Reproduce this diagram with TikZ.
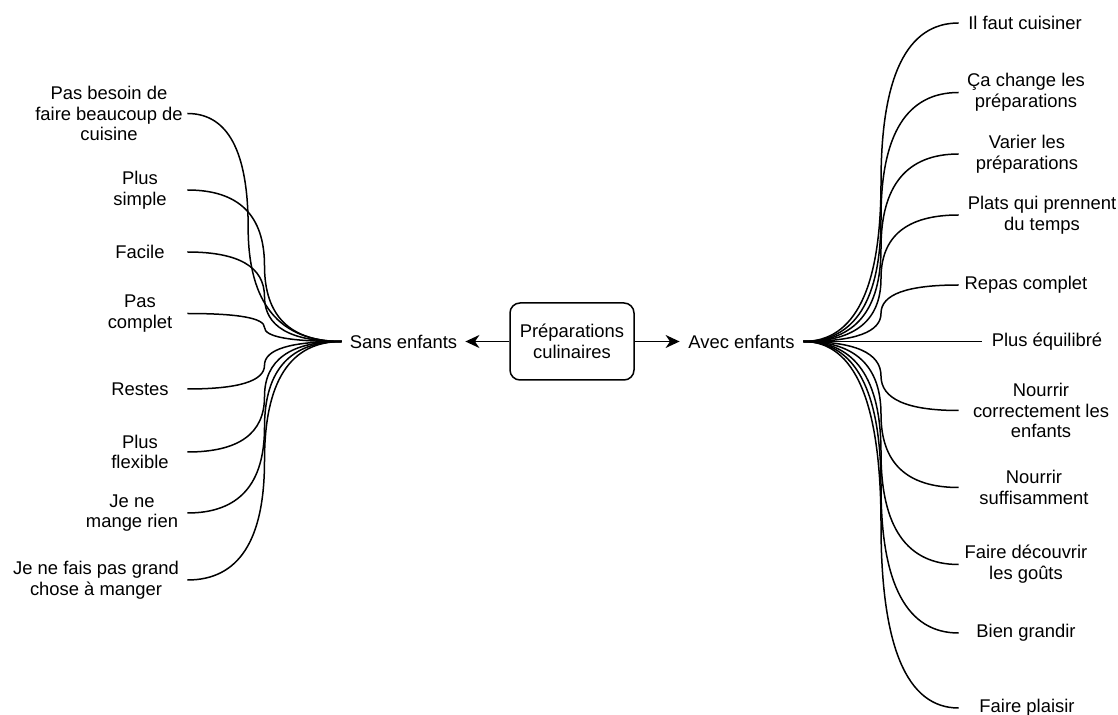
\documentclass[tikz,border=0pt]{standalone}
\usepackage{fontspec}
\setmainfont{Liberation Sans}
\usetikzlibrary{arrows.meta,calc}
\tikzset{
  fan/.style={to path={
    let \p1=(\tikztostart), \p2=(\tikztotarget),
        \n1={\x1+#1*(\x2-\x1)}, \n2={0.5*(\y1+\y2)} in
    .. controls ({\x1+2/3*(\n1-\x1)},\y1) and ({\n1*1pt},{\n2+2/3*(\y1-\n2)}) .. ({\n1*1pt},{\n2*1pt})
    .. controls ({\n1*1pt},{\n2+2/3*(\y2-\n2)}) and ({\x2+2/3*(\n1-\x2)},\y2) .. (\tikztotarget)
  }},
  fan/.default=0.5
}
\begin{document}
\begin{tikzpicture}[x=0.5pt,y=-0.5pt,
  every node/.style={font=\fontsize{9.2}{10.4}\selectfont, inner sep=0pt, align=center},
  box/.style={draw, rounded corners=5pt, minimum width=62pt, minimum height=38.5pt, line width=0.75pt},
  conn/.style={line width=0.75pt},
  arr/.style={conn, -{Stealth[length=7pt,width=6.5pt,inset=2.2pt]}}]
\useasboundingbox (0,0) rectangle (1118,715);

% centre
\node[box] (prep) at (572,341.5) {Préparations\\culinaires};
\node[minimum width=61.5pt] (sans) at (403.5,341.5) {Sans enfants};
\node[minimum width=61.5pt] (avec) at (741.5,341.5) {Avec enfants};

% left leaves
\node[minimum width=78pt] (l1) at (109,113.5) {Pas besoin de\\faire beaucoup de\\cuisine};
\node[minimum width=47pt] (l2) at (140,190) {Plus\\simple};
\node[minimum width=47pt] (l3) at (140,252) {Facile};
\node[minimum width=47pt] (l4) at (140,313.5) {Pas\\complet};
\node[minimum width=47pt] (l5) at (140,389) {Restes};
\node[minimum width=47pt] (l6) at (140,452) {Plus\\flexible};
\node[minimum width=55pt] (l7) at (132,513) {Je ne\\mange rien};
\node[minimum width=91pt] (l8) at (96,580) {Je ne fais pas grand\\chose à manger};

% right leaves
\node[minimum width=66pt] (r1) at (1025,23) {Il faut cuisiner};
\node[minimum width=67pt] (r2) at (1026,92.5) {Ça change les\\préparations};
\node[minimum width=68pt] (r3) at (1027,154) {Varier les\\préparations};
\node[minimum width=83pt] (r4) at (1042,215) {Plats qui prennent\\du temps};
\node[minimum width=67pt] (r5) at (1026,285) {Repas complet};
\node[minimum width=65pt] (r6) at (1047,341.5) {Plus équilibré};
\node[minimum width=82pt] (r7) at (1041,410.5) {Nourrir\\correctement les\\enfants};
\node[minimum width=75pt] (r8) at (1034,487.5) {Nourrir\\suffisamment};
\node[minimum width=67pt] (r9) at (1026,564.5) {Faire découvrir\\les goûts};
\node[minimum width=67pt] (r10) at (1026,633) {Bien grandir};
\node[minimum width=68pt] (r11) at (1027,708) {Faire plaisir};

% arrows from centre
\draw[arr] (prep.west) -- (sans.east);
\draw[arr] (prep.east) -- (avec.west);

% left fan
\draw[conn] (l1.east) to[fan=0.394] (sans.west);
\draw[conn] (l2.east) to[fan] (sans.west);
\draw[conn] (l3.east) to[fan] (sans.west);
\draw[conn] (l4.east) to[fan] (sans.west);
\draw[conn] (l5.east) to[fan] (sans.west);
\draw[conn] (l6.east) to[fan] (sans.west);
\draw[conn] (l7.east) to[fan] (sans.west);
\draw[conn] (l8.east) to[fan] (sans.west);

% right fan
\draw[conn] (avec.east) to[fan] (r1.west);
\draw[conn] (avec.east) to[fan] (r2.west);
\draw[conn] (avec.east) to[fan] (r3.west);
\draw[conn] (avec.east) to[fan] (r4.west);
\draw[conn] (avec.east) to[fan] (r5.west);
\draw[conn] (avec.east) -- (r6.west);
\draw[conn] (avec.east) to[fan] (r7.west);
\draw[conn] (avec.east) to[fan] (r8.west);
\draw[conn] (avec.east) to[fan] (r9.west);
\draw[conn] (avec.east) to[fan] (r10.west);
\draw[conn] (avec.east) to[fan] (r11.west);
\end{tikzpicture}
\end{document}
